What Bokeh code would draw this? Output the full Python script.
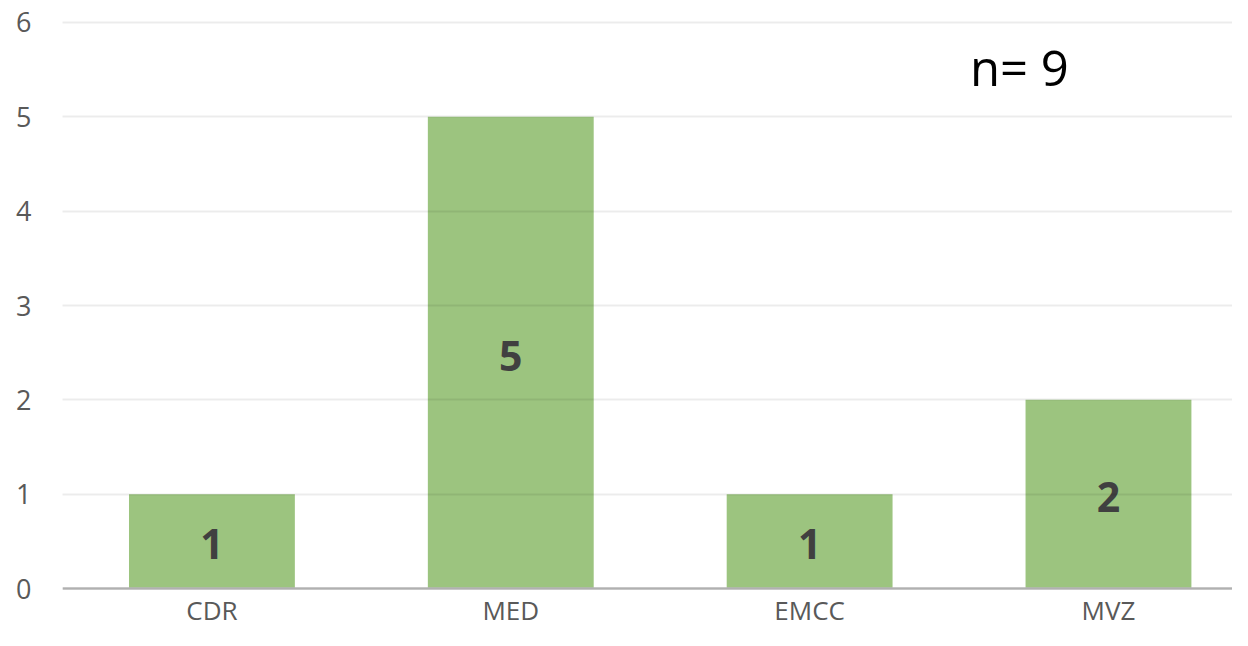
from bokeh.plotting import figure
from bokeh.models import ColumnDataSource, Range1d, FixedTicker, Label, Span
from bokeh.core.properties import value
from bokeh.embed import file_html
from bokeh.resources import INLINE

categories = ["CDR", "MED", "EMCC", "MVZ"]
counts = [1, 5, 1, 2]
y_ticks = [0, 1, 2, 3, 4, 5, 6]
total_label = "n= " + str(sum(counts))

xs = [i + 0.5 for i in range(len(categories))]
src = ColumnDataSource(dict(
    x=xs,
    zero=[0] * len(counts),
    top=counts,
    mid=[c / 2 for c in counts],
    lab=[str(c) for c in counts],
    cat=categories,
))

p = figure(width=1232, height=630, output_backend="svg", toolbar_location=None,
           x_axis_location=None,
           x_range=Range1d(0, 3.915), y_range=Range1d(-0.4452, 6.053),
           min_border_left=62, min_border_right=0, min_border_top=17, min_border_bottom=0)
p.outline_line_color = None
p.background_fill_color = "white"
p.border_fill_color = "white"

p.vbar(x="x", top="top", bottom=0, width=0.555, source=src,
       fill_color="#9CC47F", line_color=None)

p.text(x="x", y="mid", text="lab", source=src, y_offset=3,
       text_font=value("Open Sans"), text_font_style="bold", text_font_size="41px",
       text_color="#404040", text_align="center", text_baseline="middle")

p.add_layout(Label(x=3.202, y=5.53, text=total_label, text_font="Open Sans",
                   text_font_size="49px", text_color="#000000",
                   text_align="center", text_baseline="middle"))

# category labels below the baseline
p.text(x="x", y="zero", text="cat", source=src, y_offset=21,
       text_font=value("Open Sans"), text_font_size="26px",
       text_color="#595959", text_align="center", text_baseline="middle")

# grid
p.xgrid.grid_line_color = None
p.ygrid.ticker = FixedTicker(ticks=y_ticks)
p.ygrid.grid_line_color = "#000000"
p.ygrid.grid_line_alpha = 0.075
p.ygrid.grid_line_width = 2
p.ygrid.level = "overlay"

# category axis baseline at zero
p.add_layout(Span(location=0, dimension="width", line_color="#BFBFBF", line_width=2.5))

# y axis
p.yaxis.ticker = FixedTicker(ticks=y_ticks)
p.yaxis.axis_line_color = None
p.yaxis.major_tick_line_color = None
p.yaxis.minor_tick_line_color = None
p.yaxis.major_tick_out = 0
p.yaxis.major_tick_in = 0
p.yaxis.major_label_standoff = 31
p.yaxis.major_label_text_font = "Open Sans"
p.yaxis.major_label_text_font_size = "27px"
p.yaxis.major_label_text_color = "#595959"

open("out.html", "w").write(file_html(p, INLINE))
